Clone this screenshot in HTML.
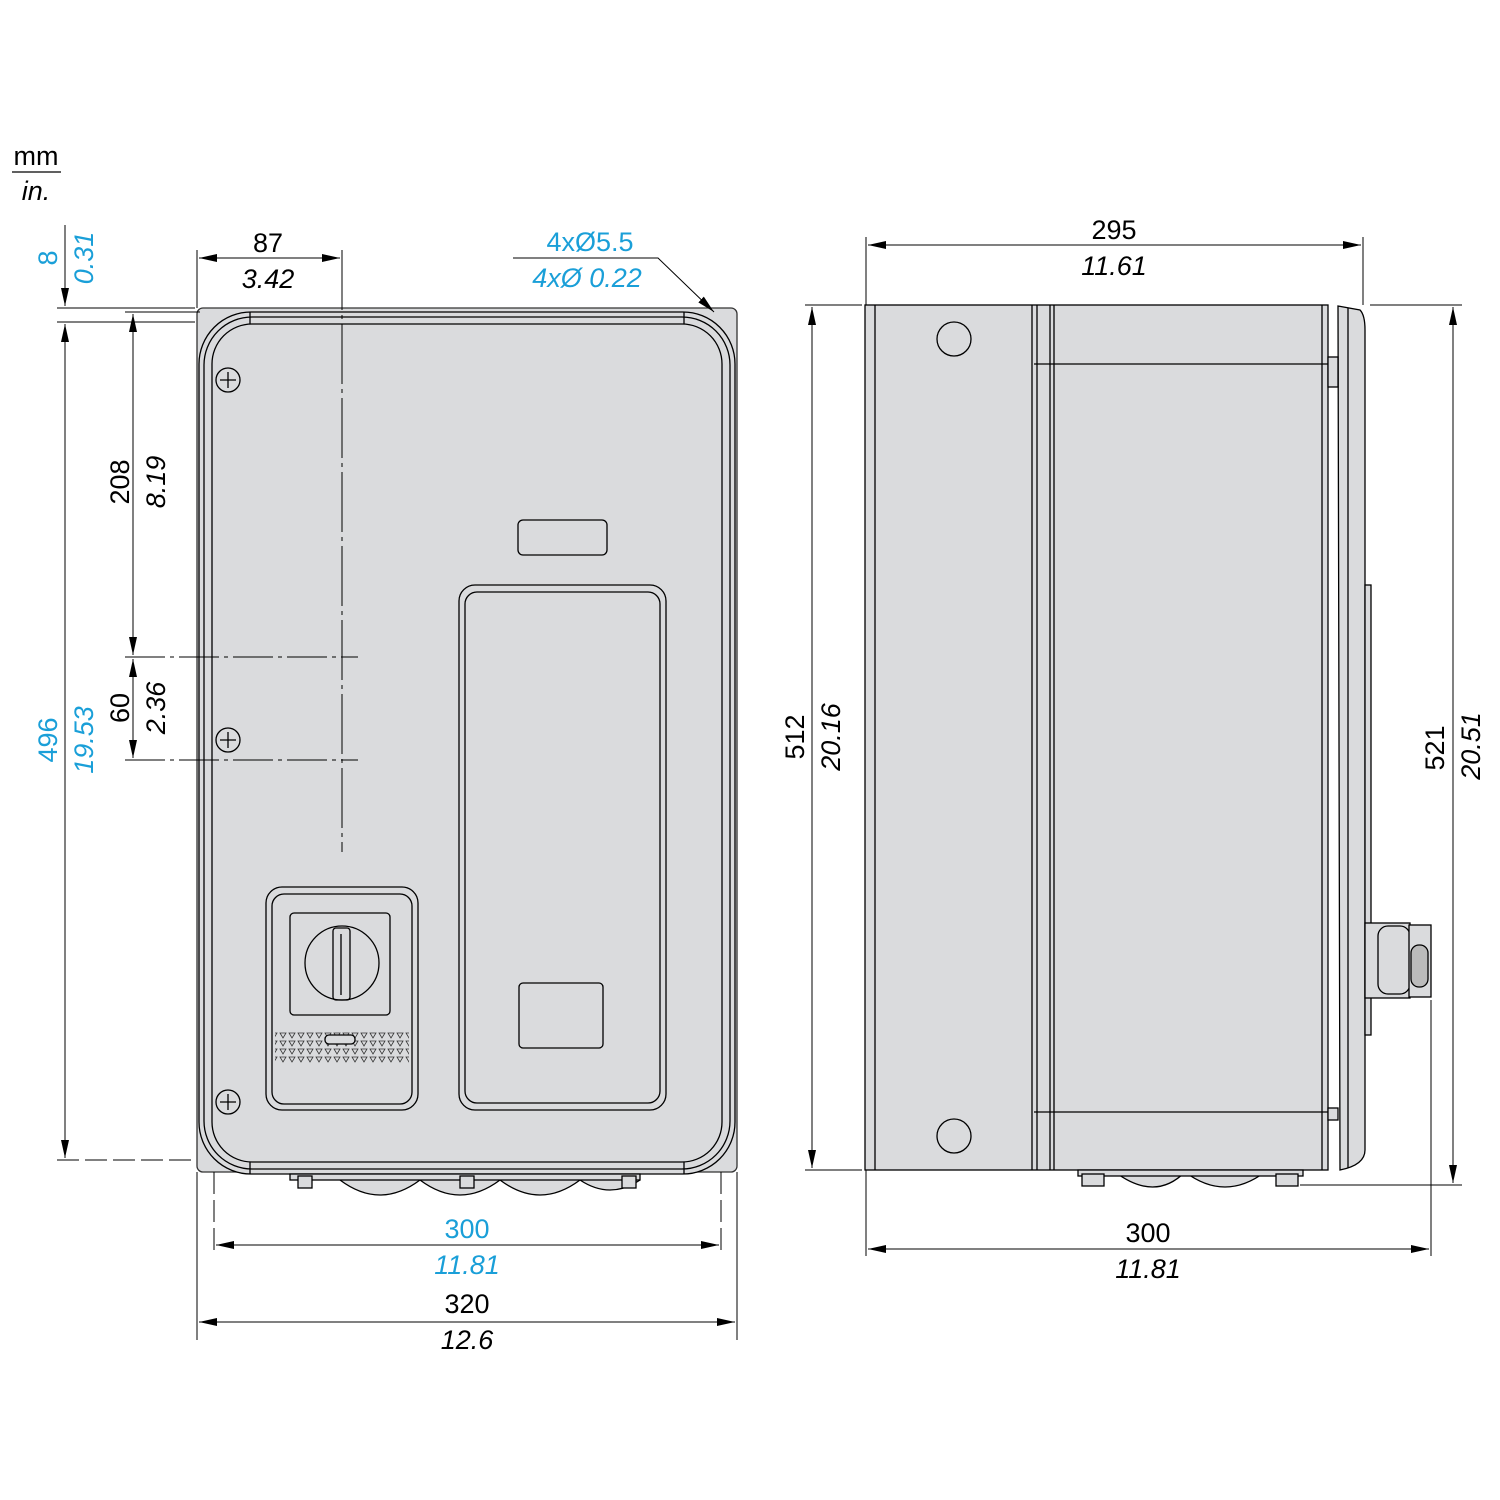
<!DOCTYPE html>
<html><head><meta charset="utf-8"><style>html,body{margin:0;padding:0;background:#fff}svg{display:block}
text{font-family:"Liberation Sans",sans-serif;font-size:27px}
.i{font-style:italic}.b{fill:#1a9fd8}</style></head><body>
<svg width="1500" height="1500" viewBox="0 0 1500 1500" xmlns="http://www.w3.org/2000/svg">
<defs>
<marker id="a" viewBox="0 0 18 8" refX="18" refY="4" markerWidth="18" markerHeight="8" markerUnits="userSpaceOnUse" orient="auto-start-reverse"><path d="M0,0L18,4L0,8z" fill="#000"/></marker>
<pattern id="tri" width="9" height="8" patternUnits="userSpaceOnUse"><path d="M1,1h6l-3,5z" fill="none" stroke="#333" stroke-width="0.8"/></pattern>
</defs>
<g fill="none" stroke="#000" stroke-width="1.3">
<line x1="12" y1="172" x2="61" y2="172"/>
<!-- FRONT VIEW -->
<rect x="197" y="308" width="540" height="864" rx="6" fill="#dadbdd" stroke="#333"/>
<rect x="199" y="312" width="536" height="862" rx="52" fill="#dadbdd"/>
<rect x="204" y="317" width="526" height="852" rx="48"/>
<rect x="212" y="324" width="510" height="838" rx="40"/>
<line x1="250" y1="312" x2="250" y2="324"/><line x1="684" y1="312" x2="684" y2="324"/>
<line x1="250" y1="1162" x2="250" y2="1174"/><line x1="684" y1="1162" x2="684" y2="1174"/>
<rect x="518" y="520" width="89" height="35" rx="5"/>
<rect x="459" y="585" width="207" height="525" rx="16"/>
<rect x="465" y="592" width="195" height="511" rx="12"/>
<rect x="519" y="983" width="84" height="65" rx="4"/>
<rect x="266" y="887" width="152" height="223" rx="16"/>
<rect x="272" y="894" width="140" height="210" rx="12"/>
<rect x="290" y="913" width="100" height="102" rx="4"/>
<circle cx="342" cy="963" r="37"/>
<rect x="333" y="928" width="17" height="72" rx="3"/>
<line x1="341" y1="934" x2="341" y2="995"/>
<rect x="275" y="1032" width="134" height="32" fill="url(#tri)" stroke="none"/>
<rect x="325" y="1035" width="30" height="9" rx="4" fill="#dadbdd"/>
<g fill="#dadbdd"><circle cx="228" cy="380" r="12"/><circle cx="228" cy="740" r="12"/><circle cx="228" cy="1102" r="12"/></g>
<path d="M228 372v16M220 380h16M228 732v16M220 740h16M228 1094v16M220 1102h16"/>
<path d="M340 1180 q40 30 80 0 q40 30 80 0 q40 30 80 0 q30 20 60 0" fill="#dadbdd"/>
<rect x="290" y="1174" width="350" height="6" fill="#dadbdd"/>
<rect x="298" y="1176" width="14" height="12" fill="#dadbdd"/><rect x="460" y="1176" width="14" height="12" fill="#dadbdd"/><rect x="622" y="1176" width="14" height="12" fill="#dadbdd"/>
<!-- SIDE VIEW -->
<rect x="865" y="305" width="463" height="865" fill="#dadbdd"/>
<line x1="875" y1="305" x2="875" y2="1170"/>
<line x1="1032" y1="305" x2="1032" y2="1170"/><line x1="1037" y1="305" x2="1037" y2="1170"/>
<line x1="1050" y1="305" x2="1050" y2="1170"/><line x1="1054" y1="305" x2="1054" y2="1170"/>
<line x1="1322" y1="305" x2="1322" y2="1170"/>
<line x1="1034" y1="364" x2="1328" y2="364"/><line x1="1034" y1="1112" x2="1328" y2="1112"/>
<circle cx="954" cy="339" r="17"/><circle cx="954" cy="1136" r="17"/>
<path d="M1338 306 L1360 310 Q1365 315 1365 330 L1365 1150 Q1365 1165 1340 1170 Z" fill="#dadbdd"/>
<line x1="1348" y1="308" x2="1348" y2="1168"/>
<rect x="1328" y="357" width="10" height="30" fill="#dadbdd"/>
<rect x="1328" y="1108" width="10" height="12" fill="#dadbdd"/>
<rect x="1365" y="585" width="6" height="450" fill="#dadbdd"/>
<rect x="1365" y="923" width="45" height="75" fill="#dadbdd"/>
<rect x="1378" y="926" width="32" height="68" rx="10"/>
<rect x="1409" y="925" width="22" height="72" fill="#dadbdd"/>
<rect x="1411" y="945" width="17" height="42" rx="8" fill="#bbb"/>
<path d="M1115 1172 q40 30 70 0 q40 30 80 0" fill="#dadbdd"/>
<rect x="1078" y="1170" width="225" height="6" fill="#dadbdd"/>
<rect x="1082" y="1174" width="22" height="12" fill="#dadbdd"/><rect x="1276" y="1174" width="22" height="12" fill="#dadbdd"/>
</g>
<!-- DIMENSIONS -->
<g fill="none" stroke="#000" stroke-width="1">
<line x1="57" y1="308" x2="195" y2="308"/><line x1="57" y1="322" x2="195" y2="322"/>
<line x1="57" y1="1160" x2="197" y2="1160" stroke-dasharray="22 6"/>
<line x1="65" y1="225" x2="65" y2="306" marker-end="url(#a)"/>
<line x1="65" y1="324" x2="65" y2="1158" marker-start="url(#a)" marker-end="url(#a)"/>
<line x1="125" y1="312" x2="200" y2="312"/>
<line x1="125" y1="657" x2="358" y2="657" stroke-dasharray="40 5 4 5"/>
<line x1="125" y1="760" x2="358" y2="760" stroke-dasharray="40 5 4 5"/>
<line x1="133" y1="314" x2="133" y2="655" marker-start="url(#a)" marker-end="url(#a)"/>
<line x1="133" y1="659" x2="133" y2="758" marker-start="url(#a)" marker-end="url(#a)"/>
<line x1="197" y1="250" x2="197" y2="308"/>
<line x1="342" y1="250" x2="342" y2="852" stroke-dasharray="60 5 4 5"/>
<line x1="199" y1="258" x2="340" y2="258" marker-start="url(#a)" marker-end="url(#a)"/>
<polyline points="513,258 658,258 714,312" marker-end="url(#a)"/>
<line x1="214" y1="1172" x2="214" y2="1256" stroke-dasharray="22 6"/>
<line x1="721" y1="1172" x2="721" y2="1256" stroke-dasharray="22 6"/>
<line x1="216" y1="1245" x2="719" y2="1245" marker-start="url(#a)" marker-end="url(#a)"/>
<line x1="197" y1="1172" x2="197" y2="1340"/><line x1="737" y1="1172" x2="737" y2="1340"/>
<line x1="199" y1="1322" x2="735" y2="1322" marker-start="url(#a)" marker-end="url(#a)"/>
<line x1="866" y1="237" x2="866" y2="305"/><line x1="1363" y1="237" x2="1363" y2="305"/>
<line x1="868" y1="245" x2="1361" y2="245" marker-start="url(#a)" marker-end="url(#a)"/>
<line x1="805" y1="305" x2="862" y2="305"/><line x1="805" y1="1170" x2="862" y2="1170"/>
<line x1="812" y1="307" x2="812" y2="1168" marker-start="url(#a)" marker-end="url(#a)"/>
<line x1="1370" y1="305" x2="1462" y2="305"/><line x1="1300" y1="1185" x2="1462" y2="1185"/>
<line x1="1453" y1="307" x2="1453" y2="1183" marker-start="url(#a)" marker-end="url(#a)"/>
<line x1="866" y1="1170" x2="866" y2="1256"/><line x1="1431" y1="1000" x2="1431" y2="1256"/>
<line x1="868" y1="1249" x2="1429" y2="1249" marker-start="url(#a)" marker-end="url(#a)"/>
</g>
<g text-anchor="middle">
<text x="36" y="165">mm</text><text x="36" y="200" class="i">in.</text>
<text x="268" y="252">87</text><text x="268" y="288" class="i">3.42</text>
<text x="590" y="251" class="b">4xØ5.5</text><text x="587" y="287" class="b i">4xØ 0.22</text>
<text x="467" y="1238" class="b">300</text><text x="467" y="1274" class="b i">11.81</text>
<text x="467" y="1313">320</text><text x="467" y="1349" class="i">12.6</text>
<text x="1114" y="239">295</text><text x="1114" y="275" class="i">11.61</text>
<text x="1148" y="1242">300</text><text x="1148" y="1278" class="i">11.81</text>
<text transform="translate(57,258) rotate(-90)" class="b">8</text>
<text transform="translate(93,258) rotate(-90)" class="b i">0.31</text>
<text transform="translate(57,740) rotate(-90)" class="b">496</text>
<text transform="translate(93,740) rotate(-90)" class="b i">19.53</text>
<text transform="translate(129,482) rotate(-90)">208</text>
<text transform="translate(165,482) rotate(-90)" class="i">8.19</text>
<text transform="translate(129,708) rotate(-90)">60</text>
<text transform="translate(165,708) rotate(-90)" class="i">2.36</text>
<text transform="translate(804,737) rotate(-90)">512</text>
<text transform="translate(840,737) rotate(-90)" class="i">20.16</text>
<text transform="translate(1444,748) rotate(-90)">521</text>
<text transform="translate(1480,746) rotate(-90)" class="i">20.51</text>
</g>
</svg>
</body></html>
